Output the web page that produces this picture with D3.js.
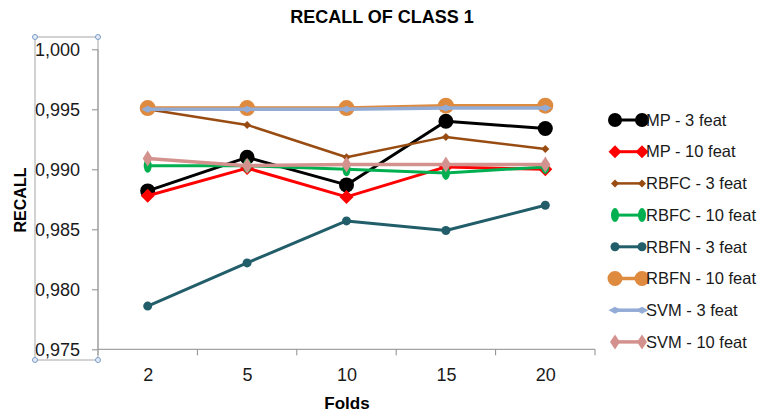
<!DOCTYPE html>
<html><head><meta charset="utf-8">
<script src="https://cdn.jsdelivr.net/npm/d3@7"></script>
<style>
html,body{margin:0;padding:0;background:#fff;}
svg{display:block;font-family:"Liberation Sans",Arial,sans-serif;}
</style></head>
<body>
<svg id="chart" width="763" height="417"></svg>
<script>
// ---- data ----
const categories = ["2", "5", "10", "15", "20"];
const seriesNames = ["MP - 3 feat", "MP - 10 feat", "RBFC - 3 feat", "RBFC - 10 feat",
                     "RBFN - 3 feat", "RBFN - 10 feat", "SVM - 3 feat", "SVM - 10 feat"];
const mp3    = [0.9882, 0.9910, 0.9887, 0.9940, 0.9934];
const mp10   = [0.9878, 0.9901, 0.9877, 0.9902, 0.9900];
const rbfc3  = [0.9950, 0.9937, 0.9910, 0.9927, 0.9917];
const rbfc10 = [0.9903, 0.9903, 0.9900, 0.9897, 0.9902];
const rbfn3  = [0.9786, 0.9822, 0.9857, 0.9849, 0.9870];
const rbfn10 = [0.9951, 0.9951, 0.9951, 0.9953, 0.9953];
const svm3   = [0.9950, 0.9950, 0.9950, 0.9951, 0.9951];
const svm10  = [0.9909, 0.9903, 0.9904, 0.9904, 0.9904];
const yTicks = [0.975, 0.980, 0.985, 0.990, 0.995, 1.000];
const chartTitle = "RECALL OF CLASS 1";
const xTitle = "Folds";
const yTitle = "RECALL";

const seriesValues = [mp3, mp10, rbfc3, rbfc10, rbfn3, rbfn10, svm3, svm10];

// ---- styles ----
const styles = [
  {color:"#000000", width:3,   shape:"ellipse", rx:7.5, ry:7.5, lrx:7, lry:7},
  {color:"#FF0000", width:3,   shape:"diamond", rx:7,   ry:7,   lrx:6.5, lry:6.5},
  {color:"#984C12", width:2.5, shape:"diamond", rx:4,   ry:4,   lrx:4, lry:4},
  {color:"#00B050", width:3,   shape:"ellipse", rx:4,   ry:7,   lrx:4, lry:7},
  {color:"#215E6A", width:3,   shape:"ellipse", rx:4.5, ry:4.5, lrx:4.5, lry:4.5},
  {color:"#DE8A3F", width:3.5, shape:"ellipse", rx:8,   ry:8,   lrx:7.5, lry:7.5},
  {color:"#93ACD6", width:3.5, shape:"diamond", rx:6.5, ry:3.5, lrx:6.5, lry:3.5},
  {color:"#D4928F", width:3.5, shape:"diamond", rx:5,   ry:8,   lrx:5, lry:7.5}
];

const svg = d3.select("#chart");
const pLeft = 98, pRight = 595, pTop = 49.3, pBottom = 349.3;

const xBand = d3.scaleBand().domain(categories).range([pLeft, pRight]);
const xPt = d3.scalePoint().domain(categories).range([pLeft, pRight]).padding(0.5);
const y = d3.scaleLinear().domain([0.975, 1.000]).range([pBottom, pTop]);

const loc = d3.formatLocale({decimal: ",", thousands: ".", grouping: [3], currency: ["", ""]});
const fmt = loc.format(".3f");

// selection box around y axis labels (as in the reference)
const box = svg.append("g");
box.append("rect").attr("x", 35).attr("y", 37).attr("width", 63).attr("height", 323)
  .attr("fill", "none").attr("stroke", "#A6A6A6").attr("stroke-width", 1);

// y axis
const gy = svg.append("g").attr("transform", `translate(${pLeft},0)`)
  .call(d3.axisLeft(y).tickValues(yTicks).tickFormat(fmt).tickSize(6).tickPadding(12));
gy.select(".domain").attr("stroke", "#8C8C8C").attr("d", `M0,${pTop}V${pBottom}`);
gy.selectAll(".tick line").attr("stroke", "#8C8C8C");
gy.selectAll(".tick text").attr("font-size", 18).attr("fill", "#1a1a1a")
  .attr("font-family", "Liberation Sans, Arial, sans-serif").attr("dy", "0.35em");

// x axis
const gx = svg.append("g").attr("transform", `translate(0,${pBottom})`)
  .call(d3.axisBottom(xPt).tickSize(0).tickPadding(19));
gx.select(".domain").attr("stroke", "#8C8C8C").attr("d", `M${pLeft},0H${pRight}`);
gx.selectAll(".tick text").attr("font-size", 18).attr("fill", "#1a1a1a")
  .attr("font-family", "Liberation Sans, Arial, sans-serif");
const edges = categories.map(c => xBand(c)).concat([xBand.range()[1]]);
gx.selectAll(".edge").data(edges).enter().append("line").attr("class", "edge")
  .attr("x1", d => d).attr("x2", d => d).attr("y1", 0).attr("y2", 6)
  .attr("stroke", "#8C8C8C");

// handles on selection box
[[35,37],[98,37],[35,360],[98,360]].forEach(p => {
  box.append("circle").attr("cx", p[0]).attr("cy", p[1]).attr("r", 2.5)
    .attr("fill", "#E3ECF6").attr("stroke", "#7C9CC8").attr("stroke-width", 1);
});
box.raise();

function markerPath(st, cx, cy, rx, ry) {
  if (st.shape === "diamond") {
    return `M${cx},${cy-ry}L${cx+rx},${cy}L${cx},${cy+ry}L${cx-rx},${cy}Z`;
  }
  return `M${cx-rx},${cy}A${rx},${ry} 0 1,0 ${cx+rx},${cy}A${rx},${ry} 0 1,0 ${cx-rx},${cy}Z`;
}

// series
const line = d3.line().x((d, i) => xPt(categories[i])).y(d => y(d));
const plot = svg.append("g");
seriesValues.forEach((vals, si) => {
  const st = styles[si];
  const g = plot.append("g");
  g.append("path").datum(vals).attr("d", line).attr("fill", "none")
    .attr("stroke", st.color).attr("stroke-width", st.width).attr("stroke-linejoin", "round");
  g.selectAll("path.m").data(vals).enter().append("path").attr("class", "m")
    .attr("d", (d, i) => markerPath(st, xPt(categories[i]), y(d), st.rx, st.ry))
    .attr("fill", st.color);
});

// legend
const legY0 = 120, legStep = 31.7;
const leg = svg.append("g");
seriesNames.forEach((name, i) => {
  const st = styles[i];
  const cy = legY0 + i * legStep;
  leg.append("line").attr("x1", 615).attr("x2", 642).attr("y1", cy).attr("y2", cy)
    .attr("stroke", st.color).attr("stroke-width", st.width);
  [615, 642].forEach(cx => leg.append("path")
    .attr("d", markerPath(st, cx, cy, st.lrx, st.lry)).attr("fill", st.color));
  leg.append("text").attr("x", 646).attr("y", cy).attr("dy", "0.35em")
    .attr("font-size", 16.5).attr("fill", "#1a1a1a").text(name);
});

// titles
svg.append("text").attr("x", 382).attr("y", 23).attr("text-anchor", "middle")
  .attr("font-size", 18).attr("font-weight", "bold").attr("fill", "#000").text(chartTitle);
svg.append("text").attr("x", 347).attr("y", 409).attr("text-anchor", "middle")
  .attr("font-size", 17).attr("font-weight", "bold").attr("fill", "#000").text(xTitle);
svg.append("text").attr("transform", "translate(26,200) rotate(-90)").attr("text-anchor", "middle")
  .attr("font-size", 16).attr("font-weight", "bold").attr("fill", "#000").text(yTitle);
</script>
</body></html>
